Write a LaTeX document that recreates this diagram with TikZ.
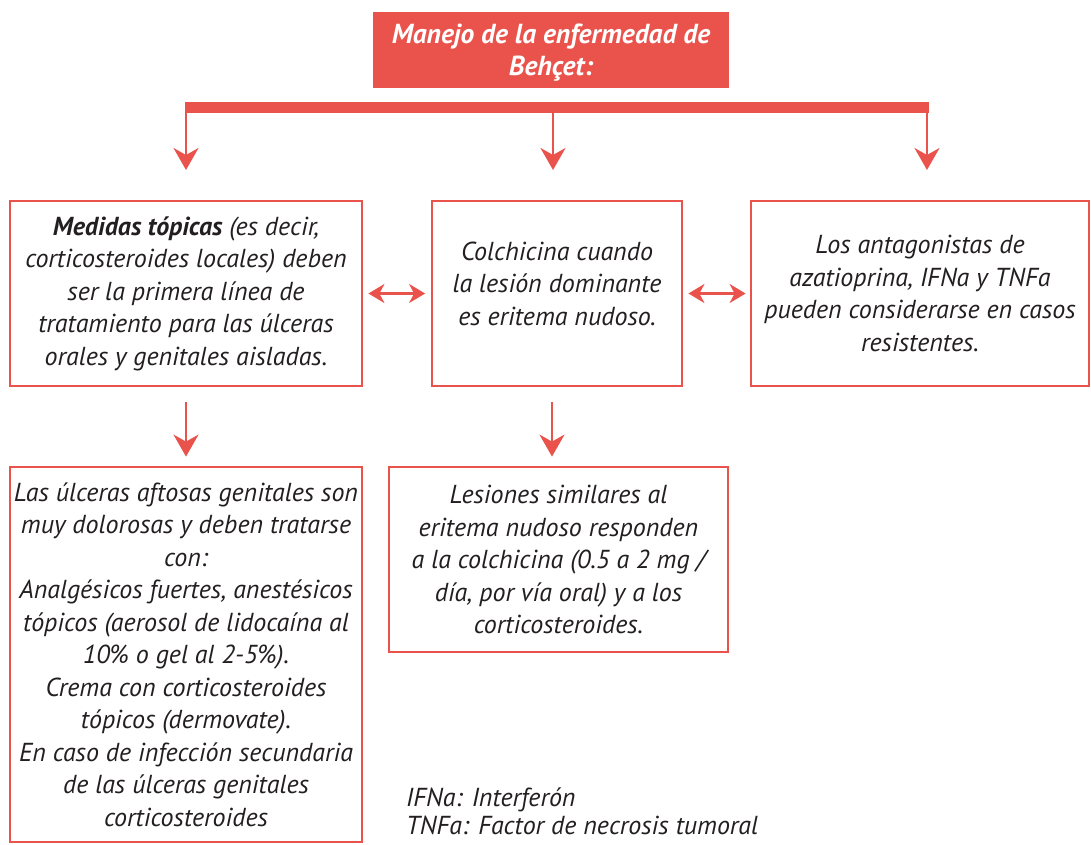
\documentclass[tikz,border=0pt]{standalone}
\usepackage{fontspec}
\setmainfont{PT Sans}
\usetikzlibrary{arrows.meta}
\definecolor{bred}{HTML}{E9534C}
\definecolor{ink}{HTML}{231F20}

\begin{document}
\begin{tikzpicture}[x=1pt,y=-1pt,
  txt/.style={font=\fontsize{26}{32.5}\selectfont\itshape, text=ink},
  box/.style={txt, draw=bred, line width=2.8pt, inner sep=0pt, align=center},
  titlebox/.style={fill=bred, inner sep=0pt, align=center, text=white,
    font=\fontsize{27.5}{32}\selectfont\bfseries\itshape},
  conn/.style={draw=bred, line width=2.5pt,
    -{Stealth[length=22pt, width=25pt, inset=7pt]}},
  link/.style={draw=bred, line width=2.5pt,
    {Stealth[length=16pt, width=19pt, inset=5pt]}-{Stealth[length=16pt, width=19pt, inset=5pt]}},
]
\useasboundingbox (0,0) rectangle (1091,844);

% heading
\node[titlebox, minimum width=356pt, minimum height=76pt] (title) at (551,50)
  {\strut\\[-30pt]Manejo de la enfermedad de\\Behçet:};

% distribution bar
\node[fill=bred, inner sep=0pt, minimum width=744pt, minimum height=11pt] (bar) at (557,107.5) {};

% tips of the three branch arrows
\coordinate (t1) at (186,170);
\coordinate (t2) at (553,170);
\coordinate (t3) at (927,170);

% first row
\node[box, minimum width=352pt, minimum height=185pt] (b1) at (186,293.5)
  {\textbf{Medidas tópicas} (es decir,\\corticosteroides locales) deben\\ser la primera línea de\\tratamiento para las úlceras\\orales y genitales aisladas.};
\node[box, minimum width=250pt, minimum height=185pt] (b2) at (557,293.5)
  {Colchicina cuando\\la lesión dominante\\es eritema nudoso.\\[-22pt]\strut};
\node[box, minimum width=338pt, minimum height=185pt] (b3) at (920,293.5)
  {Los antagonistas de\\azatioprina, IFNa y TNFa\\pueden considerarse en casos\\resistentes.};

% second row
\node[box, minimum width=352pt, minimum height=375pt] (b4) at (186,654.5)
  {Las úlceras aftosas genitales son\\muy dolorosas y deben tratarse\\con:\\Analgésicos fuertes, anestésicos\\tópicos (aerosol de lidocaína al\\10\% o gel al 2-5\%).\\Crema con corticosteroides\\tópicos (dermovate).\\En caso de infección secundaria\\de las úlceras genitales\\corticosteroides};
\node[box, minimum width=339pt, minimum height=185pt] (b5) at (558.5,559.5)
  {Lesiones similares al\\eritema nudoso responden\\a la colchicina (0.5 a 2 mg /\\día, por vía oral) y a los\\corticosteroides.};

% abbreviations
\node[txt, anchor=base west, inner sep=0pt] (fn1) at (406,806) {IFNa: Interferón};
\node[txt, anchor=base west, inner sep=0pt] (fn2) at (406,834) {TNFa: Factor de necrosis tumoral};

% connectors
\draw[conn] (bar.south -| t1) -- (t1);
\draw[conn] (bar.south -| t2) -- (t2);
\draw[conn] (bar.south -| t3) -- (t3);

\draw[link, shorten <=5pt, shorten >=5.5pt] (b1.east) -- (b2.west);
\draw[link, shorten <=5pt, shorten >=4pt] (b2.east) -- (b3.west);

\draw[conn, shorten <=15pt, shorten >=9pt] (b1.south) -- (b4.north);
\draw[conn, shorten <=15pt, shorten >=9pt] ([xshift=-5pt]b2.south) -- ([xshift=-5pt]b2.south |- b5.north);
\end{tikzpicture}
\end{document}
